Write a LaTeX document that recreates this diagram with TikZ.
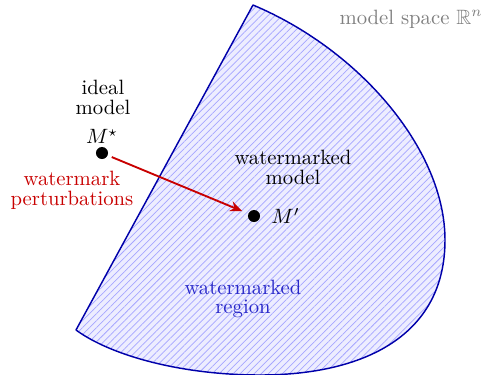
\documentclass[tikz,border=0pt]{standalone}
\usepackage{amssymb}
\usetikzlibrary{patterns.meta,arrows.meta}
\definecolor{regionblue}{RGB}{0,0,170}
\definecolor{regiontext}{RGB}{40,40,200}
\definecolor{pertred}{RGB}{200,0,0}
\tikzset{
  lbl/.style={align=center,font=\linespread{0.8}\selectfont,inner sep=0pt},
  dotnode/.style={circle,fill=black,minimum size=5.8pt,inner sep=0pt},
}
\def\regionpath{(76,330) -- (253,5) .. controls (360,50) and (445,150) .. (445,240) .. controls (445,335) and (365,375) .. (260,375) .. controls (180,375) and (110,355) .. (76,330) -- cycle}
\begin{document}
\begin{tikzpicture}[x=0.483pt,y=-0.483pt]
\useasboundingbox (0,0) rectangle (483,375);
\fill[blue!7] \regionpath;
\path[pattern={Lines[angle=45,distance=2.4pt,line width=0.35pt]},pattern color=blue!35] \regionpath;
\draw[regionblue,line width=0.7pt,line join=round] \regionpath;
\node[dotnode] (ms) at (102,153) {};
\node[dotnode] (mp) at (254,216) {};
\node[lbl,anchor=south] (mslbl) at (102,144) {$M^\star$};
\node[lbl,anchor=west] (mplbl) at (271,216) {$M'$};
\node[lbl] (ideal) at (103,97) {ideal\\model};
\node[lbl] (wmodel) at (293,167) {watermarked\\model};
\node[lbl,text=pertred] (pert) at (72,190) {watermark\\perturbations};
\node[lbl,text=regiontext] (region) at (243,299) {watermarked\\region};
\node[lbl,text=black!50,anchor=east] (space) at (483,19) {model space $\mathbb{R}^n$};
\draw[pertred,line width=0.9pt,-{Stealth[length=6pt,width=5pt]},shorten <=2pt,shorten >=3pt] (ms) -- (mp);
\end{tikzpicture}
\end{document}
